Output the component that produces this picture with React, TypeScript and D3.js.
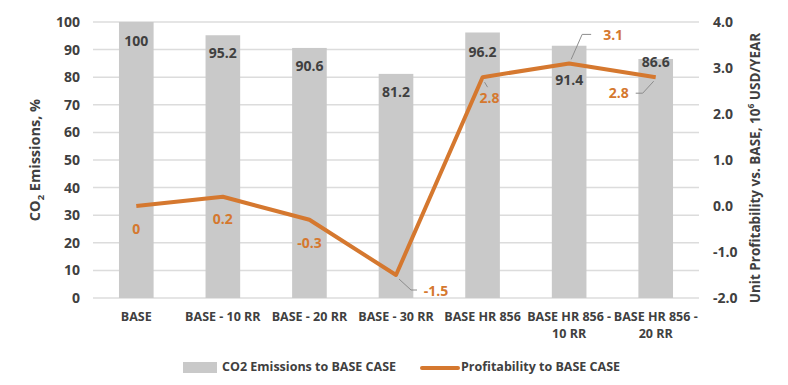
import React, { useEffect, useRef } from 'react';
import * as d3 from 'd3';

const categories = [
  ['BASE'],
  ['BASE - 10 RR'],
  ['BASE - 20 RR'],
  ['BASE - 30 RR'],
  ['BASE HR 856'],
  ['BASE HR 856 -', '10 RR'],
  ['BASE HR 856 -', '20 RR'],
];
const co2Values = [100, 95.2, 90.6, 81.2, 96.2, 91.4, 86.6];
const profitValues = [0, 0.2, -0.3, -1.5, 2.8, 3.1, 2.8];
const leftTicks = [0, 10, 20, 30, 40, 50, 60, 70, 80, 90, 100];
const rightTicks = [-2, -1, 0, 1, 2, 3, 4];

// label nudges (px) relative to bar top / line point
const barLabelDy = [19, 18, 18, 18, 19.5, 34, 3];
const profitLabelOffset: [number, number][] = [
  [0, 23], [0, 22], [0, 23], [40, 16], [7, 21], [44, -28], [-37, 16],
];

const GREY = '#c9c9c9';
const ORANGE = '#d5782f';
const TEXT = '#404040';
const FONT = '"Open Sans", sans-serif';

export default function App() {
  const ref = useRef<SVGSVGElement>(null);

  useEffect(() => {
    const svg = d3.select(ref.current);
    svg.selectAll('*').remove();

    const width = 788, height = 385;
    const margin = { left: 93, right: 89, top: 22, bottom: 87 };
    const innerH = height - margin.top - margin.bottom;

    const x = d3.scaleBand<number>()
      .domain(d3.range(categories.length))
      .range([margin.left, width - margin.right])
      .paddingInner(0.6)
      .paddingOuter(0.3);

    const yLeft = d3.scaleLinear().domain([0, 100]).range([margin.top + innerH, margin.top]);
    const yRight = d3.scaleLinear().domain([-2, 4]).range([margin.top + innerH, margin.top]);

    // grid
    svg.append('g')
      .selectAll('line')
      .data(leftTicks)
      .join('line')
      .attr('x1', margin.left)
      .attr('x2', width - margin.right)
      .attr('y1', d => yLeft(d))
      .attr('y2', d => yLeft(d))
      .attr('stroke', '#dcdcdc')
      .attr('stroke-width', 1.5);

    // left axis labels
    svg.append('g')
      .selectAll('text')
      .data(leftTicks)
      .join('text')
      .attr('x', 80)
      .attr('y', d => yLeft(d))
      .attr('dy', '0.35em')
      .attr('text-anchor', 'end')
      .text(d => d);

    // right axis labels
    svg.append('g')
      .selectAll('text')
      .data(rightTicks)
      .join('text')
      .attr('x', 713)
      .attr('y', d => yRight(d))
      .attr('dy', '0.35em')
      .text(d => d.toFixed(1));

    // bars
    svg.append('g')
      .selectAll('rect')
      .data(co2Values)
      .join('rect')
      .attr('x', (d, i) => x(i)!)
      .attr('width', x.bandwidth())
      .attr('y', d => yLeft(d))
      .attr('height', d => yLeft(0) - yLeft(d))
      .attr('fill', GREY);

    // x labels
    const xl = svg.append('g')
      .selectAll('text')
      .data(categories)
      .join('text')
      .attr('text-anchor', 'middle')
      .attr('font-size', 12.5)
      .attr('y', 321);
    xl.selectAll('tspan')
      .data((d, i) => d.map(s => ({ s, i })))
      .join('tspan')
      .attr('x', d => x(d.i)! + x.bandwidth() / 2)
      .attr('dy', (d, j) => (j === 0 ? 0 : 17))
      .text(d => d.s);

    // bar labels
    svg.append('g')
      .selectAll('text')
      .data(co2Values)
      .join('text')
      .attr('x', (d, i) => x(i)! + x.bandwidth() / 2)
      .attr('y', (d, i) => yLeft(d) + barLabelDy[i])
      .attr('dy', '0.35em')
      .attr('text-anchor', 'middle')
      .text(d => d);

    // leader lines
    const cx = (i: number) => x(i)! + x.bandwidth() / 2;
    const leaders: [number, number][][] = [
      [[cx(3) + 3, yRight(-1.5) + 4], [cx(3) + 15, yRight(-1.5) + 15], [cx(3) + 21, yRight(-1.5) + 15]],
      [[cx(4) + 2, yRight(2.8) + 5], [cx(4) + 5, yRight(2.8) + 10]],
      [[cx(5) + 2, yRight(3.1) - 4], [cx(5) + 13, yRight(3.1) - 29], [cx(5) + 22, yRight(3.1) - 29]],
      [[cx(6) - 2, yRight(2.8) + 4], [cx(6) - 13, yRight(2.8) + 16], [cx(6) - 20, yRight(2.8) + 16]],
    ];
    svg.append('g')
      .selectAll('polyline')
      .data(leaders)
      .join('polyline')
      .attr('points', d => d.map(p => p.join(',')).join(' '))
      .attr('fill', 'none')
      .attr('stroke', '#8c8c8c')
      .attr('stroke-width', 1);

    // profit line
    const line = d3.line<number>()
      .x((d, i) => cx(i))
      .y(d => yRight(d));
    svg.append('path')
      .datum(profitValues)
      .attr('d', line)
      .attr('fill', 'none')
      .attr('stroke', ORANGE)
      .attr('stroke-width', 4)
      .attr('stroke-linejoin', 'round');

    // profit labels
    svg.append('g')
      .selectAll('text')
      .data(profitValues)
      .join('text')
      .attr('x', (d, i) => cx(i) + profitLabelOffset[i][0])
      .attr('y', (d, i) => yRight(d) + profitLabelOffset[i][1])
      .attr('dy', '0.35em')
      .attr('text-anchor', 'middle')
      .attr('fill', ORANGE)
      .text(d => d);

    // axis titles
    const lt = svg.append('text')
      .attr('transform', 'translate(40,160) rotate(-90)')
      .attr('text-anchor', 'middle')
      .attr('font-size', 14.5);
    lt.append('tspan').text('CO');
    lt.append('tspan').attr('font-size', 9.5).attr('dy', 4).text('2');
    lt.append('tspan').attr('dy', -4).text(' Emissions, %');

    const rt = svg.append('text')
      .attr('transform', 'translate(760,168) rotate(-90)')
      .attr('text-anchor', 'middle')
      .attr('font-size', 13.5);
    rt.append('tspan').text('Unit Profitability vs. BASE, 10');
    rt.append('tspan').attr('font-size', 8.5).attr('dy', -6).text('6');
    rt.append('tspan').attr('dy', 6).text(' USD/YEAR');

    // legend
    const lg = svg.append('g').attr('font-size', 12.5);
    lg.append('rect').attr('x', 183).attr('y', 362).attr('width', 34).attr('height', 11).attr('fill', GREY);
    lg.append('text').attr('x', 222).attr('y', 367).attr('dy', '0.35em').text('CO2 Emissions to BASE CASE');
    lg.append('line').attr('x1', 422).attr('x2', 458).attr('y1', 368).attr('y2', 368)
      .attr('stroke', ORANGE).attr('stroke-width', 4).attr('stroke-linecap', 'round');
    lg.append('text').attr('x', 461).attr('y', 367).attr('dy', '0.35em').text('Profitability to BASE CASE');
  }, []);

  return (
    <svg
      ref={ref}
      width={788}
      height={385}
      style={{ position: 'absolute', left: 0, top: 0, background: '#fff' }}
      fontFamily={FONT}
      fontWeight={700}
      fontSize={14}
      fill={TEXT}
    />
  );
}
